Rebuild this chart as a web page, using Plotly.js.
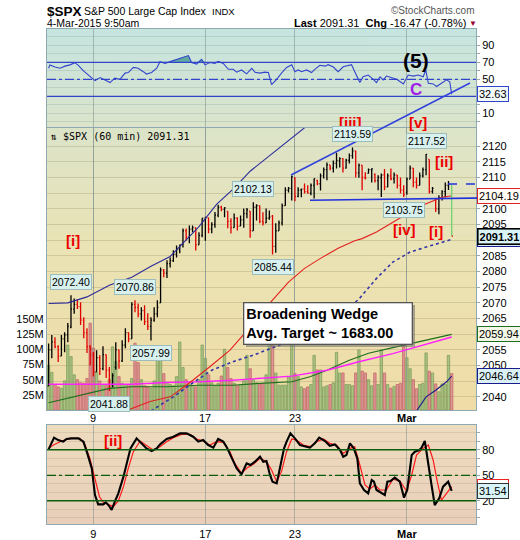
<!DOCTYPE html>
<html>
<head>
<meta charset="utf-8">
<script src="https://cdn.plot.ly/plotly-3.0.1.min.js"></script>
<style>
  html, body { margin: 0; padding: 0; background: #ffffff; }
  #chart { width: 520px; height: 540px; }
</style>
</head>
<body>
<div id="chart"></div>
<script>
// ---------------- $SPX hourly bars, 5-Feb-2015 .. 4-Mar-2015 09:50 ----------------
// bar index 0..126, seven bars per session
const sessionStarts = [14, 49, 77, 112];
const sessionLabels = ['9', '17', '23', '<b>Mar</b>'];

const opens = [
  2043.45,2055.0,2057.5,2056.0,2053.0,2058.5,2059.8,
  2062.28,2068.0,2069.5,2068.8,2064.5,2060.5,2056.0,
  2053.47,2048.0,2052.5,2049.0,2053.5,2048.5,2044.0,
  2049.38,2055.0,2051.5,2056.5,2060.5,2058.5,2069.5,
  2068.55,2066.5,2067.5,2064.0,2062.5,2064.5,2066.5,
  2069.98,2080.5,2079.5,2082.5,2083.5,2085.5,2087.0,
  2088.78,2093.0,2091.0,2093.5,2094.0,2088.5,2091.5,
  2096.47,2097.1,2093.5,2095.0,2098.0,2100.5,2099.8,
  2099.16,2096.0,2094.0,2097.0,2094.5,2096.5,2098.5,
  2099.25,2093.0,2100.5,2101.0,2096.0,2095.5,2097.0,
  2097.65,2088.0,2093.0,2095.5,2101.0,2106.0,2106.5,
  2109.83,2104.0,2106.0,2106.3,2105.5,2105.0,2107.5,
  2109.1,2108.0,2110.5,2112.5,2114.0,2113.0,2114.5,
  2115.3,2116.0,2113.0,2115.5,2117.0,2118.5,2111.5,
  2113.91,2110.0,2111.3,2112.5,2111.0,2109.0,2110.0,
  2110.88,2107.0,2110.5,2109.6,2110.8,2107.5,2106.0,
  2105.23,2109.5,2113.0,2108.5,2107.5,2110.5,2112.5,
  2115.76,2105.5,2103.0,2100.0,2103.5,2105.5,2107.5,
  2107.72
];
const highs = [
  2057.0,2059.7,2059.0,2056.5,2059.7,2060.6,2063.55,
  2072.40,2071.4,2071.0,2070.2,2065.4,2061.9,2056.5,
  2054.3,2054.9,2053.3,2056.16,2053.5,2049.5,2047.5,
  2057.4,2055.0,2058.1,2061.9,2060.5,2070.2,2070.86,
  2069.8,2068.6,2069.2,2066.7,2065.4,2068.6,2070.8,
  2081.3,2080.8,2083.6,2084.5,2086.8,2088.3,2088.53,
  2093.7,2093.7,2094.7,2094.7,2094.0,2092.5,2097.03,
  2097.5,2097.2,2095.7,2099.0,2101.3,2101.0,2100.5,
  2099.2,2097.0,2098.5,2097.3,2097.9,2100.1,2100.23,
  2099.3,2102.13,2101.5,2101.1,2098.9,2100.1,2099.5,
  2098.0,2095.4,2096.3,2101.7,2106.9,2107.0,2110.61,
  2110.05,2106.9,2106.5,2108.1,2107.5,2108.1,2109.7,
  2109.3,2111.3,2113.2,2114.8,2114.0,2115.4,2117.94,
  2116.5,2116.2,2116.0,2117.7,2119.59,2118.5,2114.5,
  2113.91,2111.7,2112.9,2112.9,2111.3,2110.7,2111.3,
  2112.74,2111.3,2112.9,2111.6,2110.8,2110.0,2107.5,
  2110.0,2113.8,2113.0,2110.0,2111.6,2113.2,2117.52,
  2115.76,2107.0,2103.3,2104.3,2105.9,2108.4,2108.9,
  2107.72
];
const lows = [
  2043.45,2052.3,2055.5,2051.1,2053.0,2054.2,2057.4,
  2061.9,2066.5,2068.0,2062.9,2058.7,2054.0,2049.97,
  2046.5,2048.0,2047.0,2048.5,2046.0,2041.88,2043.0,
  2048.62,2049.0,2051.1,2055.5,2057.4,2058.5,2067.0,
  2065.4,2064.4,2062.9,2061.3,2057.99,2064.0,2065.4,
  2069.98,2078.2,2077.9,2081.3,2083.0,2084.5,2085.8,
  2087.7,2089.9,2089.0,2092.5,2086.7,2088.5,2090.9,
  2089.8,2092.2,2092.2,2094.0,2097.3,2099.2,2097.3,
  2093.8,2092.15,2094.0,2093.1,2094.5,2094.0,2097.0,
  2090.79,2093.0,2096.3,2095.4,2094.7,2095.5,2096.5,
  2085.44,2086.0,2093.0,2094.7,2101.0,2105.2,2102.7,
  2102.4,2103.7,2103.7,2104.9,2104.9,2104.3,2103.3,
  2107.5,2105.87,2109.7,2109.1,2112.3,2111.6,2112.9,
  2113.2,2111.6,2112.9,2114.5,2116.0,2110.0,2109.89,
  2105.9,2109.4,2111.3,2108.4,2108.4,2105.9,2103.76,
  2105.9,2106.9,2109.1,2108.1,2106.5,2104.9,2103.75,
  2104.5,2109.5,2106.9,2106.5,2107.5,2110.0,2110.7,
  2104.9,2104.9,2099.0,2098.26,2102.7,2103.6,2106.0,
  2091.31
];
const closes = [
  2055.0,2057.5,2056.0,2053.0,2058.5,2059.8,2062.52,
  2068.0,2069.5,2068.8,2064.5,2060.5,2056.0,2055.47,
  2048.0,2052.5,2049.0,2053.5,2048.5,2044.0,2046.74,
  2055.0,2051.5,2056.5,2060.5,2058.5,2069.5,2068.59,
  2066.5,2067.5,2064.0,2062.5,2064.5,2066.5,2068.53,
  2080.5,2079.5,2082.5,2083.5,2085.5,2087.0,2088.48,
  2093.0,2091.0,2093.5,2094.0,2088.5,2091.5,2096.99,
  2097.1,2093.5,2095.0,2098.0,2100.5,2099.8,2100.34,
  2096.0,2094.0,2097.0,2094.5,2096.5,2098.5,2099.68,
  2093.0,2100.5,2101.0,2096.0,2095.5,2097.0,2097.45,
  2088.0,2093.0,2095.5,2101.0,2106.0,2106.5,2110.3,
  2104.0,2106.0,2106.3,2105.5,2105.0,2107.5,2109.66,
  2108.0,2110.5,2112.5,2114.0,2113.0,2114.5,2115.48,
  2116.0,2113.0,2115.5,2117.0,2118.5,2111.5,2113.86,
  2110.0,2109.8,2112.5,2112.8,2109.0,2110.0,2110.74,
  2107.0,2110.5,2109.6,2110.8,2107.5,2106.0,2104.5,
  2109.5,2113.0,2108.5,2107.5,2110.5,2112.5,2117.39,
  2105.5,2106.5,2100.0,2103.5,2105.5,2107.5,2107.78,
  2091.31
];
// hourly volume, millions of shares
const volumesM = [
  74,62,42,38,36,48,107,
  88,58,50,45,44,52,143,
  102,62,48,42,40,50,104,
  80,55,44,40,42,52,110,
  78,50,40,38,36,48,104,
  95,60,45,42,40,55,112,
  70,50,42,40,38,50,107,
  85,58,45,40,44,56,100,
  70,52,44,40,42,48,90,
  68,50,45,42,44,58,110,
  107,61,41,41,41,54,110,
  60,55,38,35,38,42,90,
  66,66,38,40,42,45,95,
  61,61,42,42,40,61,99,
  64,61,50,40,61,42,99,
  61,42,36,39,42,44,107,
  86,68,50,35,42,44,94,
  64,61,43,30,43,42,90,
  60
];

// ---------------- overlays (vertex index, value) ----------------
const upperIdx = [0,6,12,19,26,32,38,42,47,52.5,58,63,66,72,79,82];
const upperVal = [2069.8,2070.0,2071.9,2075.6,2078.2,2081.7,2084.8,2089.0,2094.3,2101.4,2106.6,2112.0,2114.5,2119.3,2125.1,2127.5];
const redMaIdx = [24,31.7,38,44,50.4,56.7,61.2,69.5,75,80,85,90.5,95.7,98,102.5,107.7,113,118,123,126];
const redMaVal = [2035.5,2038.5,2040,2044.4,2049.6,2054.9,2060.2,2070.3,2076.6,2081,2084.2,2087.4,2089.8,2090.5,2092.6,2095.8,2099,2101.6,2103.7,2104.19];
const dotMaIdx = [32,39,45,51,57.6,64.5,76,87,97,102.5,107.6,113,118,126];
const dotMaVal = [2035.5,2040,2044.4,2048.5,2051.2,2053.5,2058,2062.2,2071.2,2077.8,2083,2086.2,2087.8,2090.24];
const greenMaIdx = [0,5.7,12,19,26,37,47,57.6,66,76,81.7,87,94,100,107.6,115,120,126];
const greenMaVal = [2038.1,2039.5,2040.9,2042.7,2043.2,2043.2,2043.7,2043.7,2044.3,2044.8,2046.4,2048.5,2051.7,2053.9,2055.7,2057.5,2058.6,2059.94];
const pinkMaIdx = [0,26,37,47,57.6,66,76,87,97,107.6,118,126];
const pinkMaVal = [2044,2044,2044.6,2044.8,2045.3,2045.9,2046.6,2048.5,2051.2,2053.8,2056.8,2059.1];
const navyMaIdx = [115,118,121,124.4,126];
const navyMaVal = [2035.5,2040,2042.1,2044.8,2046.64];

// ---------------- RSI ----------------
const rsiIdx = [0,0.4,2.0,3.6,5.1,6.7,8.2,9.3,10.9,12.4,14.5,16.1,17.6,19.2,20.7,22.3,23.9,24.9,26.5,28.0,29.6,30.6,32.2,33.8,34.8,36.4,38.0,40.0,42.1,43.7,44.7,46.3,47.8,48.9,50.4,52.0,53.0,54.6,56.2,57.7,58.8,60.3,61.9,63.5,64.5,66.1,67.6,68.7,69.7,71.3,72.8,74.4,76.0,77.0,78.0,79.1,80.6,82.2,83.2,84.8,86.4,87.4,89.0,90.5,92.1,93.7,94.7,95.7,97.3,98.3,99.9,101.5,102.5,103.6,104.6,105.6,107.2,108.8,109.8,110.9,112.4,114.0,115.5,117.1,117.9,118.7,120.2,121.3,122.8,124.4,125.4,126];
const rsiVal = [63,67,64.5,63,65.5,67,69.6,66.5,60,55,48.4,52,49.4,46.2,51.4,50,57.3,58,64,63,59,56.2,58,63,70.8,68.6,70.8,73.6,76,77.9,69.8,67.9,73.6,67,69.8,68.6,71,68.6,61.8,61.8,58.4,61,56.4,63,58.4,57.3,58.4,58,43.7,50,57.3,64,67.2,59,61,59,61,58,61.8,66.5,65.5,67.2,64.5,59,64.8,66.5,67.2,59,46.2,53,55,50,46.2,53,49.4,53.8,51.5,50,47.5,44.6,55,53.8,55,53,61,45.4,44.6,41.6,45.4,49.4,47,32.63];

// ---------------- Slow stochastic ----------------
const kIdx = [0,0.4,1.7,3.0,4.6,5.6,7.2,9.3,10.9,12.1,13.5,14.5,15.5,17.1,17.9,18.7,19.7,20.7,21.8,23.4,24.4,25.6,27.5,29.1,30.6,32.2,33.8,34.8,36.9,39.0,41.1,43.1,45.2,46.8,48.3,49.9,51.5,53.0,54.6,55.6,57.2,58.8,60.3,61.9,63.1,64.5,66.1,67.1,68.1,69.2,70.0,71.3,72.3,73.6,74.4,75.6,77.0,78.6,80.6,81.7,83.2,84.6,86.4,87.9,89.5,91.1,92.1,93.1,94.2,95.4,96.5,97.3,98.6,99.9,101.0,101.7,102.5,103.6,105.1,105.9,106.9,108.2,109.8,111.1,112.1,113.5,114.5,115.9,116.6,117.6,118.7,119.7,120.7,122.1,123.3,124.9,126];
const kVal = [80.5,83.7,94.3,91.5,89.6,92.7,93.5,93.5,89.6,75.8,58.2,26.8,15.8,15.8,18.2,15,9.2,19,28.8,48.4,62.1,81.7,93.5,87.6,81.7,78.6,81.7,86.4,92.7,95.4,99.4,99.4,95.4,89.6,91.5,85.6,82.5,92.7,89.6,83.7,70,58.2,51.1,64,62.1,66,71.9,66,66.8,50.4,42.5,40.5,58.2,81.7,89.6,99.4,93.5,85.6,83.7,82.5,87.6,94.3,90.4,84.8,86.4,79.7,71.9,73.9,87.6,81.7,70,40.5,32.7,28.8,44.5,42.5,32.7,30,26.8,42.5,43.3,47.2,42.5,23.7,32.7,73.9,77.8,79.7,82.5,90.4,66,38.6,15,22.9,36.6,42.5,31.54];
const dIdx = [0,1.5,4.1,6.7,9.8,11.4,12.9,14.5,15.9,17.1,18.7,20.2,21.8,23.4,24.9,26.5,28.6,30.6,32.7,34.8,36.9,39.0,41.6,44.2,46.3,48.3,50.4,52.5,54.6,56.7,58.2,60.3,61.9,64.0,66.1,68.1,69.7,71.3,72.8,74.4,76.0,77.5,79.6,81.7,83.8,85.9,87.9,90.0,92.1,94.2,95.7,97.3,98.9,100.4,102.0,103.6,105.6,107.7,109.8,111.9,113.5,115.0,117.1,118.7,120.2,121.5,122.8,124.4,126];
const dVal = [81.7,85.6,90.4,93.5,93.5,85.6,70,44.5,24.8,18.2,15.8,13.1,19.8,36.6,58.2,77.8,90.4,85.6,79.7,83.7,89.6,94.3,98.2,98.2,92.7,90.4,85.6,89.6,88.8,77.8,64,52.3,58.2,62.9,70,66,56.2,42.5,54.3,77.8,92.7,91.5,85.6,83.7,89.6,92.7,87.6,85.6,75.8,81.7,83.7,62.1,38.6,33.9,38.6,32.7,32.7,45.6,43.3,31.5,50.4,73.9,81.7,85.6,68,42.5,20.9,28.8,36.57];

// swing highs / lows that get a value tag
const swingTags = [
  { value: 2072.40, at: 'high' }, { value: 2070.86, at: 'high' },
  { value: 2057.99, at: 'low' },  { value: 2041.88, at: 'low' },
  { value: 2102.13, at: 'high' }, { value: 2085.44, at: 'low' },
  { value: 2119.59, at: 'high' }, { value: 2117.52, at: 'high' },
  { value: 2103.75, at: 'low' }
];

// ---------------- page geometry helpers (pixels -> paper) ----------------
const W = 520, H = 540;
const px = v => v / W;
const py = v => 1 - v / H;
const FONT = 'Liberation Sans, Arial, sans-serif';
const X_RANGE = [-0.5, 133.6];

// ---------------- derived series ----------------
const n = closes.length;
const idx = closes.map((_, i) => i);
const last = n - 1;
const upBar = closes.map((c, i) => i === 0 ? c >= opens[0] : c >= closes[i - 1]);

function subset(arr, keep) { return arr.filter((_, i) => keep(i)); }
function ohlcTrace(keep, color) {
  return {
    type: 'ohlc', xaxis: 'x', yaxis: 'y3',
    x: subset(idx, keep), open: subset(opens, keep), high: subset(highs, keep),
    low: subset(lows, keep), close: subset(closes, keep),
    tickwidth: 0.32,
    increasing: { line: { color: color, width: 1.3 } },
    decreasing: { line: { color: color, width: 1.3 } },
    hoverinfo: 'skip', showlegend: false
  };
}
function lineTrace(x, y, ya, color, width, dash) {
  return { type: 'scatter', mode: 'lines', x: x, y: y, xaxis: 'x', yaxis: ya,
           line: { color: color, width: width, dash: dash || 'solid' },
           hoverinfo: 'skip', showlegend: false };
}

const traces = [];

// volume (own axis in the price panel, drawn underneath)
traces.push({
  type: 'bar', xaxis: 'x', yaxis: 'y2', x: idx, y: volumesM, width: 0.74,
  marker: {
    color: upBar.map(u => u ? '#a9c285' : '#dd9595'),
    line: { color: upBar.map(u => u ? '#83a05c' : '#c56a6a'), width: 0.8 }
  },
  hoverinfo: 'skip', showlegend: false
});

// price overlays
traces.push(lineTrace(greenMaIdx, greenMaVal, 'y3', '#1d6e1d', 1.1));
traces.push(lineTrace(pinkMaIdx, pinkMaVal, 'y3', '#ff22ff', 1.4));
traces.push(lineTrace(navyMaIdx, navyMaVal, 'y3', '#1a1a8a', 1.1));
traces.push(lineTrace(dotMaIdx, dotMaVal, 'y3', '#3535a8', 1.6, 'dot'));
traces.push(lineTrace(redMaIdx, redMaVal, 'y3', '#e42020', 1.1));
traces.push(lineTrace(upperIdx, upperVal, 'y3', '#2b2b9c', 1.1));

// price bars: black when the close rose, red when it fell; latest partial bar on its own
traces.push(ohlcTrace(i => i < last && upBar[i], '#000000'));
traces.push(ohlcTrace(i => i < last && !upBar[i], '#e00000'));
traces.push(lineTrace([last, last], [highs[last], lows[last]], 'y3', '#6fd46f', 1.3));
traces.push(lineTrace([last, last + 0.4], [closes[last], closes[last]], 'y3', '#e00000', 1.3));

// RSI with overbought shading
traces.push(lineTrace(rsiIdx, rsiIdx.map(() => 70), 'y', 'rgba(0,0,0,0)', 0));
traces.push({ type: 'scatter', mode: 'lines', x: rsiIdx, y: rsiVal.map(v => Math.max(v, 70)),
  xaxis: 'x', yaxis: 'y', fill: 'tonexty', fillcolor: '#5fa9a0',
  line: { width: 0, color: 'rgba(0,0,0,0)' }, hoverinfo: 'skip', showlegend: false });
traces.push(lineTrace(rsiIdx, rsiVal, 'y', '#3344cc', 1.1));

// stochastic
traces.push(lineTrace(dIdx, dVal, 'y4', '#ff1a1a', 1.2));
traces.push(lineTrace(kIdx, kVal, 'y4', '#000000', 2.1));

// ---------------- background gradients ----------------
function gradient(stops) {
  const c = document.createElement('canvas');
  c.width = 2; c.height = 256;
  const g = c.getContext('2d');
  const lg = g.createLinearGradient(0, 0, 0, 256);
  stops.forEach(s => lg.addColorStop(s[0], s[1]));
  g.fillStyle = lg; g.fillRect(0, 0, 2, 256);
  return c.toDataURL('image/png');
}
function panelImage(src, top, bottom) {
  return { source: src, xref: 'paper', yref: 'paper', x: px(47), y: py(top),
           sizex: px(476) - px(47), sizey: (bottom - top) / H,
           xanchor: 'left', yanchor: 'top', sizing: 'stretch', layer: 'below' };
}
const images = [
  panelImage(gradient([[0, '#c6e5e0'], [1, '#dbe4cb']]), 29, 127),
  panelImage(gradient([[0, '#dce4c9'], [0.45, '#ebe3b4'], [1, '#f0dca6']]), 128, 410),
  panelImage(gradient([[0, '#eedcbf'], [1, '#e9cfba']]), 425, 524)
];

// ---------------- axes ----------------
const tickFont = { family: FONT, size: 11, color: '#000' };
const frame = { showline: true, linecolor: '#8fa9b2', linewidth: 1, zeroline: false };

function tenSteps(labels) {
  const vals = [], text = [];
  for (let v = 0; v <= 100; v += 10) { vals.push(v); text.push(labels.includes(v) ? String(v) : ''); }
  return { vals, text };
}
const rsiTicks = tenSteps([10, 50, 70, 90]);
const stoTicks = tenSteps([20, 50, 80]);

// right-edge tags on the price scale; tick labels they cover are left blank
const priceTagValues = [redMaVal[redMaVal.length - 1], closes[last],
  greenMaVal[greenMaVal.length - 1], navyMaVal[navyMaVal.length - 1]];
const priceTicks = [], priceText = [];
for (let p = 2040; p <= 2120; p += 5) {
  priceTicks.push(p);
  priceText.push(priceTagValues.some(v => Math.abs(v - p) < 2) ? '' : String(p));
}
const volTicks = [25, 50, 75, 100, 125, 150];

const layout = {
  width: W, height: H, margin: { l: 0, r: 0, t: 0, b: 0 },
  paper_bgcolor: '#ffffff', plot_bgcolor: 'rgba(0,0,0,0)',
  font: { family: FONT, size: 11, color: '#000' },
  showlegend: false, images: images,
  // one shared time axis under all three panels (no range slider)
  xaxis: Object.assign({
    domain: [px(47), px(476)], range: X_RANGE, anchor: 'y4', tickmode: 'array',
    tickvals: sessionStarts, ticktext: sessionLabels, tickfont: tickFont,
    ticks: '', showgrid: true, gridcolor: 'rgba(130,145,145,0.55)', gridwidth: 1, mirror: 'all',
    rangeslider: { visible: false }
  }, frame),
  yaxis: Object.assign({
    domain: [py(127), py(29)], range: [-6.1, 109.2], side: 'right', anchor: 'x', mirror: true,
    tickmode: 'array', tickvals: rsiTicks.vals, ticktext: rsiTicks.text, tickfont: tickFont,
    ticks: 'outside', ticklen: 3, tickcolor: '#9aa', showgrid: true, gridcolor: 'rgba(110,140,130,0.22)'
  }, frame),
  yaxis2: Object.assign({
    domain: [py(410), py(128)], range: [0, 464.6], side: 'left', anchor: 'x', mirror: true,
    tickmode: 'array', tickvals: volTicks, ticktext: volTicks.map(v => v + 'M'),
    tickfont: tickFont, ticks: '', showgrid: false
  }, frame),
  yaxis3: {
    domain: [py(410), py(128)], anchor: 'x', side: 'right', range: [2035.8, 2125.8],
    tickmode: 'array', tickvals: priceTicks, ticktext: priceText, tickfont: tickFont,
    ticks: 'outside', ticklen: 3, tickcolor: '#9aa', showgrid: true,
    gridcolor: 'rgba(150,140,100,0.30)', zeroline: false, showline: false
  },
  yaxis4: Object.assign({
    domain: [py(524), py(425)], range: [-7.3, 109.2], side: 'right', anchor: 'x', mirror: true,
    tickmode: 'array', tickvals: stoTicks.vals, ticktext: stoTicks.text, tickfont: tickFont,
    ticks: 'outside', ticklen: 3, tickcolor: '#9aa', showgrid: true, gridcolor: 'rgba(150,120,100,0.2)'
  }, frame)
};

// ---------------- reference lines & drawn trendlines ----------------
function hline(yref, y, color, dash, width) {
  return { type: 'line', xref: 'paper', yref: yref, x0: px(47), x1: px(476), y0: y, y1: y,
           line: { color: color, width: width || 1.2, dash: dash || 'solid' } };
}
function pline(x0, y0, x1, y1, color, width, dash) {
  return { type: 'line', xref: 'paper', yref: 'paper', x0: px(x0), y0: py(y0), x1: px(x1), y1: py(y1),
           line: { color: color, width: width, dash: dash || 'solid' } };
}
layout.shapes = [
  hline('y', 70, '#3344cc'), hline('y', 30, '#3344cc'), hline('y', 50, '#3344cc', 'dashdot'),
  hline('y4', 80, '#0b5e0b', 'solid', 1.4), hline('y4', 20, '#0b5e0b', 'solid', 1.4),
  hline('y4', 50, '#0b5e0b', 'dashdot', 1.3),
  // broadening wedge boundaries
  pline(291, 175, 470, 83, '#3344dd', 1.5),
  pline(310, 200.3, 520, 197.5, '#2233dd', 1.6),
  pline(448, 184, 476, 184, '#2233dd', 1.4, 'dash'),
  // drop shadow behind the target note
  { type: 'rect', xref: 'paper', yref: 'paper', x0: px(246), x1: px(415), y0: py(347), y1: py(305),
    fillcolor: 'rgba(110,110,110,0.55)', line: { width: 0 }, layer: 'above' }
];

// ---------------- text ----------------
const ann = [];
function txt(text, x, y, size, color, extra) {
  ann.push(Object.assign({ text: text, xref: 'paper', yref: 'paper', x: px(x), y: py(y),
    xanchor: 'center', yanchor: 'middle', showarrow: false,
    font: { family: FONT, size: size, color: color } }, extra || {}));
}
// header
txt('<b>$SPX</b>', 45, 11, 13.5, '#000', { xanchor: 'left' });
txt('S&amp;P 500 Large Cap Index', 82, 11, 10.5, '#000', { xanchor: 'left' });
txt('INDX', 210, 11.5, 9.5, '#000', { xanchor: 'left' });
txt('\u00a9StockCharts.com', 477, 10.5, 10, '#555', { xanchor: 'right' });
txt('4-Mar-2015 9:50am', 45, 23.5, 10.5, '#000', { xanchor: 'left' });
const prevClose = 2107.78;
const chg = closes[last] - prevClose;
txt('<b>Last</b> ' + closes[last].toFixed(2) + '  <b>Chg</b> ' + chg.toFixed(2) +
    ' (' + (chg / prevClose * 100).toFixed(2) + '%)', 468, 23.5, 11, '#000', { xanchor: 'right' });
txt('\u25BC', 472.5, 23.5, 8, '#990033');
// panel caption
txt('\u21C5 $SPX (60 min) ' + closes[last].toFixed(2), 48, 136.5, 10, '#000',
    { xanchor: 'left', font: { family: 'DejaVu Sans Mono, monospace', size: 10, color: '#000' } });

// session labels under the price panel
sessionStarts.forEach((s, k) => {
  ann.push({ text: sessionLabels[k], xref: 'x', yref: 'paper', x: s, y: py(417.5),
    xanchor: 'center', yanchor: 'middle', showarrow: false, font: tickFont });
});

// wave count
const waveRed = '#ee0000';
txt('<b>[i]</b>', 73, 240, 15, waveRed);
txt('<b>[iii]</b>', 350, 123, 15, waveRed);
txt('<b>[v]</b>', 418, 123, 15, waveRed);
txt('<b>[ii]</b>', 444, 161, 15, waveRed);
txt('<b>[iv]</b>', 404, 229, 15, waveRed);
txt('<b>[i]</b>', 436, 232, 15, waveRed);
txt('<b>[ii]</b>', 113, 440, 15, waveRed);
txt('<b>(5)</b>', 416, 60, 21, '#000');
txt('<b>C</b>', 416, 90, 17, '#a01ee8');

// target note
ann.push({ text: '<b>Broadening Wedge<br>Avg. Target ~ 1683.00</b>', xref: 'paper', yref: 'paper',
  x: px(243), y: py(302), xanchor: 'left', yanchor: 'top', align: 'left', showarrow: false,
  width: 163, height: 36, bgcolor: '#ffffff', bordercolor: '#555', borderwidth: 1.3, borderpad: 2,
  font: { family: FONT, size: 14.5, color: '#000' } });

// swing tags, positioned on the bar that carries the value
swingTags.forEach(t => {
  const src = t.at === 'high' ? highs : lows;
  const i = src.findIndex(v => v === t.value);
  if (i < 0) return;
  ann.push({ text: src[i].toFixed(2), xref: 'x', yref: 'y3', x: i, y: src[i],
    xanchor: 'center', yanchor: t.at === 'high' ? 'bottom' : 'top', yshift: t.at === 'high' ? 5 : -5,
    showarrow: false, bgcolor: '#d8f1ef', bordercolor: '#9dbcbc', borderwidth: 1, borderpad: 1,
    font: { family: FONT, size: 10.5, color: '#000' } });
});

// right-edge value tags
function edgeTag(value, yref, border, bg, bold, width) {
  ann.push({ text: bold ? '<b>' + value.toFixed(2) + '</b>' : value.toFixed(2),
    xref: 'paper', yref: yref, x: px(477), y: value, xanchor: 'left', yanchor: 'middle',
    showarrow: false, bgcolor: bg, bordercolor: border, borderwidth: width || 1, borderpad: 1,
    font: { family: FONT, size: 11, color: '#000' } });
}
edgeTag(dotMaVal[dotMaVal.length - 1], 'y3', '#1a1a8a', '#d9f0f6');
edgeTag(redMaVal[redMaVal.length - 1], 'y3', '#dd2222', '#fffaf5');
edgeTag(closes[last], 'y3', '#000', '#d9f4f8', true, 1.6);
edgeTag(greenMaVal[greenMaVal.length - 1], 'y3', '#1d6e1d', '#f3f7e6');
edgeTag(navyMaVal[navyMaVal.length - 1], 'y3', '#1a1a8a', '#d9f0f6');
edgeTag(rsiVal[rsiVal.length - 1], 'y', '#3344cc', '#f2fafb');
edgeTag(dVal[dVal.length - 1], 'y4', '#ee2222', '#ffffff');
edgeTag(kVal[kVal.length - 1], 'y4', '#333', '#d9f4f8');

layout.annotations = ann;

Plotly.newPlot('chart', traces, layout, { staticPlot: true, displayModeBar: false });
</script>
</body>
</html>
